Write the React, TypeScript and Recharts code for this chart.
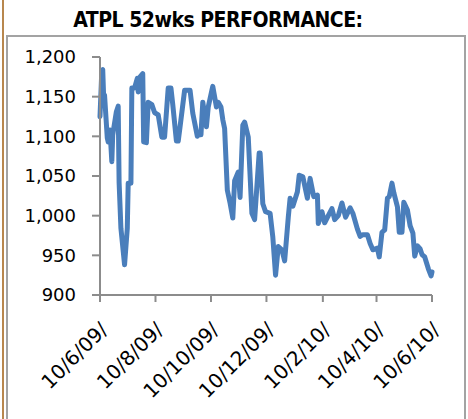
import { LineChart, Line, XAxis, YAxis } from "recharts";

// days since 10/6/09 (dd/m/yy), price
const days = [
  0, 2, 3, 4, 5, 8, 9, 11, 13, 14,
  18, 20, 21, 23, 27, 30, 31, 34, 35, 38,
  41, 42, 44, 47, 48, 51, 53, 57, 60, 64,
  68, 71, 75, 78, 80, 84, 86, 88, 93, 99,
  102, 107, 108, 111, 113, 117, 119, 123, 124, 128,
  130, 133, 135, 137, 140, 143, 146, 148, 152, 154,
  157, 159, 163, 167, 170, 175, 176, 179, 182, 187,
  190, 193, 196, 200, 203, 207, 209, 212, 217, 219,
  223, 228, 231, 235, 239, 240, 244, 247, 251, 255,
  258, 262, 266, 270, 275, 278, 283, 286, 289, 294,
  297, 300, 305, 307, 310, 313, 316, 318, 321, 323,
  327, 329, 332, 334, 338, 341, 344, 346, 349, 352,
  354, 357, 361, 364, 365,
];

const prices = [
  1125, 1183, 1184, 1150, 1152, 1098, 1093, 1108, 1068, 1102,
  1131, 1138, 1042, 984, 938, 984, 1041, 1041, 1161, 1161,
  1173, 1156, 1175, 1179, 1093, 1092, 1143, 1140, 1130, 1127,
  1099, 1099, 1161, 1161, 1140, 1094, 1094, 1112, 1158, 1158,
  1129, 1100, 1102, 1102, 1143, 1112, 1137, 1158, 1163, 1137,
  1143, 1137, 1121, 1110, 1032, 1016, 997, 1044, 1055, 1023,
  1114, 1118, 1099, 1003, 995, 1079, 1079, 1015, 1005, 1003,
  973, 925, 961, 957, 943, 998, 1022, 1012, 1030, 1051,
  1049, 1022, 1047, 1024, 1026, 990, 1005, 991, 1000, 1009,
  995, 1000, 1016, 998, 1010, 1003, 983, 974, 976, 976,
  965, 957, 959, 948, 979, 982, 1022, 1024, 1041, 1029,
  1011, 979, 979, 1017, 1007, 987, 978, 949, 962, 958,
  951, 948, 933, 924, 929,
];

const tickDays = [0, 61, 122, 183, 245, 304, 365];
const tickLabels = ["10/6/09/", "10/8/09/", "10/10/09/", "10/12/09/", "10/2/10/", "10/4/10/", "10/6/10/"];
const yTicks = [900, 950, 1000, 1050, 1100, 1150, 1200];

const data = days.map((d, i) => ({ day: d, price: prices[i] }));

const axisFont = "'DejaVu Sans', Verdana, sans-serif";

function DateTick(props: any) {
  const { x, y, payload } = props;
  const idx = tickDays.indexOf(payload.value);
  const ax = x + 9;
  const ay = y + 27;
  return (
    <text
      x={ax}
      y={ay}
      transform={`rotate(-45, ${ax}, ${ay})`}
      textAnchor="end"
      fill="#000"
      fontSize={20}
      fontFamily={axisFont}
    >
      {tickLabels[idx]}
    </text>
  );
}

export default function App() {
  return (
    <div style={{ position: "relative", width: 468, height: 419, background: "#fff", overflow: "hidden" }}>
      <style>{`body{margin:0}`}</style>
      <div style={{ position: "absolute", left: 2, top: 0, width: 2, height: 419, background: "#b8874e" }} />
      <div
        style={{
          position: "absolute",
          left: 6,
          top: 35,
          width: 456,
          height: 400,
          border: "2px solid #a3a3a3",
        }}
      />
      <div
        style={{
          position: "absolute",
          left: 0,
          top: 7,
          width: 436,
          textAlign: "center",
          fontFamily: "'DejaVu Sans Condensed', 'DejaVu Sans', sans-serif",
          fontWeight: "bold",
          fontSize: 21,
          letterSpacing: -0.5,
          color: "#000",
          lineHeight: "27px",
        }}
      >
        ATPL 52wks PERFORMANCE:
      </div>
      <div style={{ position: "absolute", left: 0, top: 0 }}>
        <LineChart width={468} height={419} data={data} margin={{ top: 57, right: 36, left: 0, bottom: 0 }}>
          <XAxis
            dataKey="day"
            type="number"
            domain={[0, 365]}
            ticks={tickDays}
            interval={0}
            height={124}
            tickSize={7}
            tick={<DateTick />}
            stroke="#8c8c8c"
            strokeWidth={2}
          />
          <YAxis
            type="number"
            domain={[900, 1200]}
            ticks={yTicks}
            interval={0}
            width={100}
            tickSize={8}
            tickMargin={16}
            tickFormatter={(v: number) => v.toLocaleString("en-US")}
            tick={{ fill: "#000", fontSize: 18, fontFamily: axisFont }}
            stroke="#8c8c8c"
            strokeWidth={2}
          />
          <Line
            type="linear"
            dataKey="price"
            stroke="#4a7ebb"
            strokeWidth={5}
            strokeLinejoin="round"
            strokeLinecap="round"
            dot={false}
            isAnimationActive={false}
          />
        </LineChart>
      </div>
    </div>
  );
}
